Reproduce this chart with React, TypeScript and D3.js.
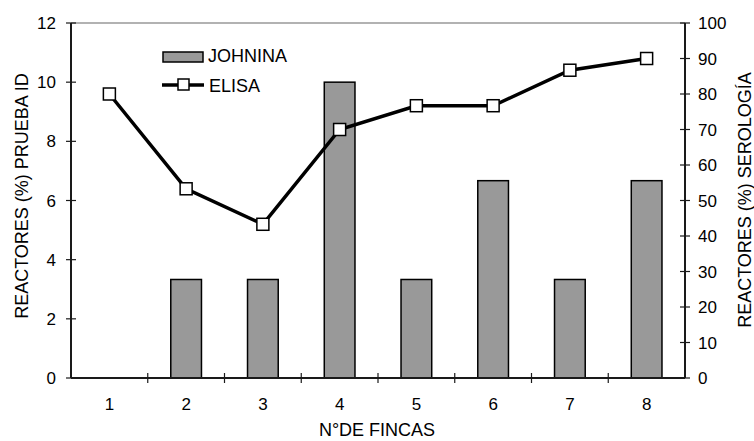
import React from "react";
import * as d3 from "d3";

const categories = ["1", "2", "3", "4", "5", "6", "7", "8"];
const johnina = [0, 3.33, 3.33, 10, 3.33, 6.67, 3.33, 6.67];
const elisa = [80, 53.3, 43.3, 70, 76.7, 76.7, 86.7, 90];
const leftTicks = [0, 2, 4, 6, 8, 10, 12];
const rightTicks = [0, 10, 20, 30, 40, 50, 60, 70, 80, 90, 100];

const W = 754, H = 441;
const M = { left: 71, right: 685, top: 23, bottom: 378 };
const FONT = "'Liberation Sans', Arial, sans-serif";
const TICK_FS = 17;
const TITLE_FS = 18;

export default function App() {
  const x = d3.scaleBand<string>().domain(categories).range([M.left, M.right]);
  const yL = d3.scaleLinear().domain([0, 12]).range([M.bottom, M.top]);
  const yR = d3.scaleLinear().domain([0, 100]).range([M.bottom, M.top]);
  const bw = x.bandwidth() * 0.4;
  const line = d3
    .line<number>()
    .x((_, i) => (x(categories[i]) as number) + x.bandwidth() / 2)
    .y((d) => yR(d));
  const boundaries = categories.map((c) => (x(c) as number) + x.bandwidth());
  const axisColor = "#1a1a1a";
  return (
    <svg width={W} height={H} style={{ position: "absolute", left: 0, top: 0 }} fontFamily={FONT}>
      <rect width={W} height={H} fill="#fff" />
      <line x1={M.left} x2={M.right} y1={M.top} y2={M.top} stroke="#999" strokeWidth={1.5} />
      {categories.map((c, i) => (
        <rect
          key={c}
          x={(x(c) as number) + (x.bandwidth() - bw) / 2}
          y={yL(johnina[i])}
          width={bw}
          height={M.bottom - yL(johnina[i])}
          fill="#999999"
          stroke="#000"
          strokeWidth={1.5}
        />
      ))}
      {/* left axis */}
      <line x1={M.left} x2={M.left} y1={M.top} y2={M.bottom} stroke={axisColor} strokeWidth={2} />
      {leftTicks.map((t) => (
        <g key={t}>
          <line x1={M.left - 5} x2={M.left + 5} y1={yL(t)} y2={yL(t)} stroke={axisColor} strokeWidth={1.2} />
          <text x={M.left - 15} y={yL(t) + 6} textAnchor="end" fontSize={TICK_FS}>{t}</text>
        </g>
      ))}
      {/* right axis */}
      <line x1={M.right} x2={M.right} y1={M.top} y2={M.bottom} stroke={axisColor} strokeWidth={2} />
      {rightTicks.map((t) => (
        <g key={t}>
          <line x1={M.right - 5} x2={M.right + 5} y1={yR(t)} y2={yR(t)} stroke={axisColor} strokeWidth={1.2} />
          <text x={M.right + 13} y={yR(t) + 6} textAnchor="start" fontSize={TICK_FS}>{t}</text>
        </g>
      ))}
      {/* x axis */}
      <line x1={M.left} x2={M.right} y1={M.bottom} y2={M.bottom} stroke={axisColor} strokeWidth={2} />
      {boundaries.slice(0, -1).map((b, i) => (
        <line key={i} x1={b} x2={b} y1={M.bottom - 5} y2={M.bottom + 5} stroke={axisColor} strokeWidth={1.2} />
      ))}
      {categories.map((c) => (
        <text key={c} x={(x(c) as number) + x.bandwidth() / 2} y={M.bottom + 32} textAnchor="middle" fontSize={TICK_FS}>{c}</text>
      ))}
      {/* line */}
      <path d={line(elisa) as string} fill="none" stroke="#000" strokeWidth={3.5} />
      {elisa.map((v, i) => (
        <rect
          key={i}
          x={(x(categories[i]) as number) + x.bandwidth() / 2 - 6}
          y={yR(v) - 6}
          width={12}
          height={12}
          fill="#fff"
          stroke="#000"
          strokeWidth={1.5}
        />
      ))}
      {/* titles */}
      <text x={377} y={436} textAnchor="middle" fontSize={TITLE_FS}>N°DE FINCAS</text>
      <text transform={`translate(28,196) rotate(-90)`} textAnchor="middle" fontSize={TITLE_FS}>REACTORES (%) PRUEBA ID</text>
      <text transform={`translate(751,200) rotate(-90)`} textAnchor="middle" fontSize={TITLE_FS}>REACTORES (%) SEROLOGÍA</text>
      {/* legend */}
      <rect x={163} y={52} width={40} height={10} fill="#999" stroke="#000" strokeWidth={1.5} />
      <text x={208} y={62} fontSize={TITLE_FS}>JOHNINA</text>
      <line x1={162} x2={204} y1={85} y2={85} stroke="#000" strokeWidth={3.5} />
      <rect x={178} y={79} width={11} height={11} fill="#fff" stroke="#000" strokeWidth={1.5} />
      <text x={209} y={92} fontSize={TITLE_FS}>ELISA</text>
    </svg>
  );
}
